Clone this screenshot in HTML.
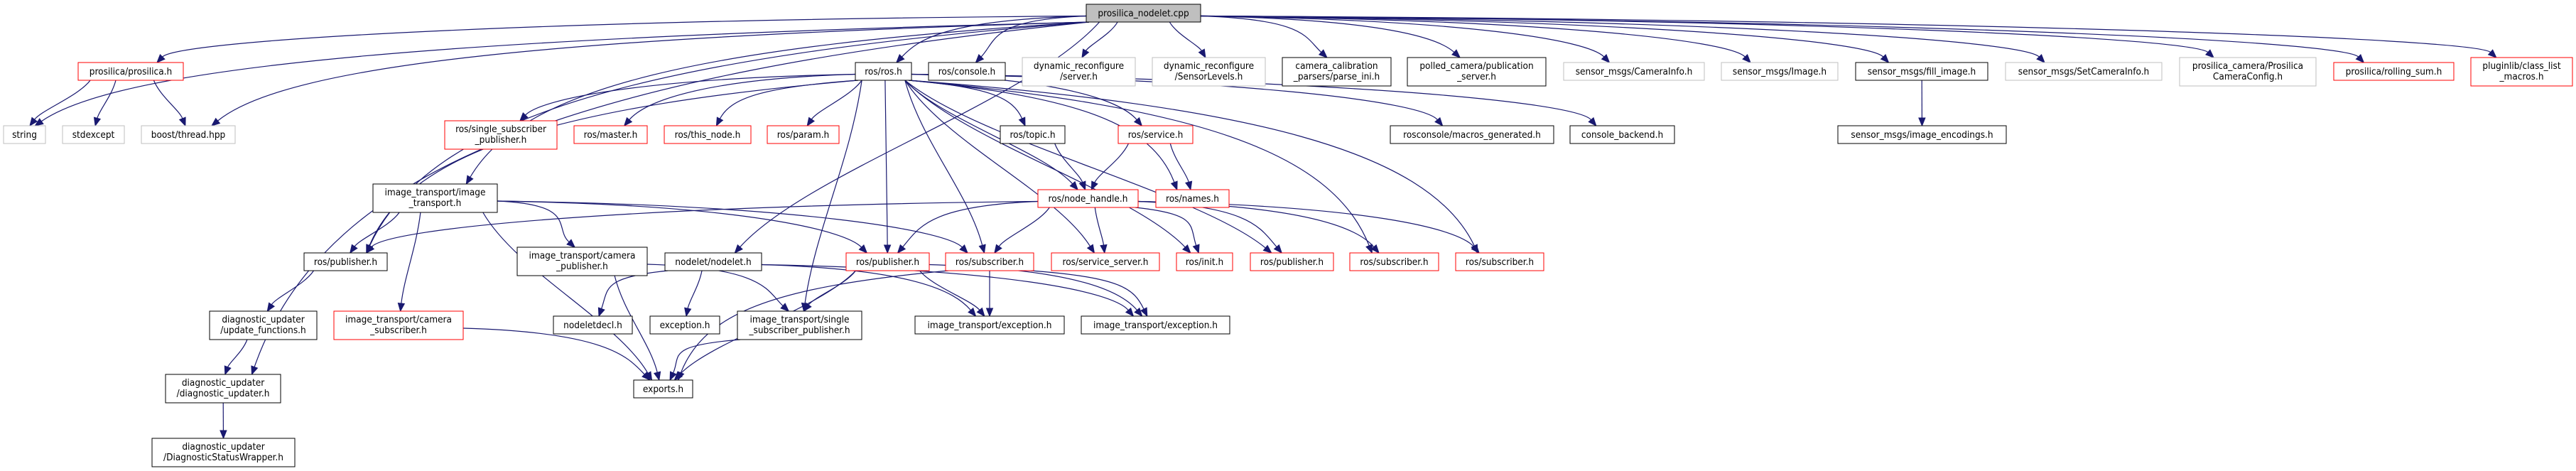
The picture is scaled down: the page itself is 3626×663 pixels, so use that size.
<!DOCTYPE html>
<html><head><meta charset="utf-8"><style>
html,body{margin:0;padding:0;background:#fff;}
svg{display:block;}
text{font-family:"DejaVu Sans Condensed","DejaVu Sans","Liberation Sans",sans-serif;font-size:13.5px;fill:#000;}
</style></head><body>
<svg id="g" width="3626" height="663" viewBox="0 0 3626 663" xmlns="http://www.w3.org/2000/svg">
<g id="edges" fill="none" stroke="#191970" stroke-width="1.2"></g>
<g id="arrows" fill="#191970" stroke="#191970"></g>
<g id="nodes">
<rect x="1529" y="6" width="161" height="25" fill="#bfbfbf" stroke="#000"/><text x="1609.5" y="23" text-anchor="middle">prosilica_nodelet.cpp</text>

<rect x="110" y="88" width="148" height="25" fill="#fff" stroke="#ff0000"/><text x="184" y="105" text-anchor="middle">prosilica/prosilica.h</text>
<rect x="1204" y="88" width="79" height="25" fill="#fff" stroke="#000"/><text x="1243.5" y="105" text-anchor="middle">ros/ros.h</text>
<rect x="1307" y="88" width="108" height="25" fill="#fff" stroke="#000"/><text x="1361" y="105" text-anchor="middle">ros/console.h</text>
<rect x="1439" y="81" width="159" height="40" fill="#fff" stroke="#bfbfbf"/><text x="1518.5" y="97" text-anchor="middle">dynamic_reconfigure</text><text x="1518.5" y="112" text-anchor="middle">/server.h</text>
<rect x="1622" y="81" width="159" height="40" fill="#fff" stroke="#bfbfbf"/><text x="1701.5" y="97" text-anchor="middle">dynamic_reconfigure</text><text x="1701.5" y="112" text-anchor="middle">/SensorLevels.h</text>
<rect x="1805" y="81" width="153" height="40" fill="#fff" stroke="#000"/><text x="1881.5" y="97" text-anchor="middle">camera_calibration</text><text x="1881.5" y="112" text-anchor="middle">_parsers/parse_ini.h</text>
<rect x="1981" y="81" width="195" height="40" fill="#fff" stroke="#000"/><text x="2078.5" y="97" text-anchor="middle">polled_camera/publication</text><text x="2078.5" y="112" text-anchor="middle">_server.h</text>
<rect x="2201" y="88" width="198" height="25" fill="#fff" stroke="#bfbfbf"/><text x="2300" y="105" text-anchor="middle">sensor_msgs/CameraInfo.h</text>
<rect x="2423" y="88" width="164" height="25" fill="#fff" stroke="#bfbfbf"/><text x="2505" y="105" text-anchor="middle">sensor_msgs/Image.h</text>
<rect x="2612" y="88" width="186" height="25" fill="#fff" stroke="#000"/><text x="2705" y="105" text-anchor="middle">sensor_msgs/fill_image.h</text>
<rect x="2823" y="88" width="220" height="25" fill="#fff" stroke="#bfbfbf"/><text x="2933" y="105" text-anchor="middle">sensor_msgs/SetCameraInfo.h</text>
<rect x="3068" y="81" width="192" height="40" fill="#fff" stroke="#bfbfbf"/><text x="3164" y="97" text-anchor="middle">prosilica_camera/Prosilica</text><text x="3164" y="112" text-anchor="middle">CameraConfig.h</text>
<rect x="3285" y="88" width="169" height="25" fill="#fff" stroke="#ff0000"/><text x="3369.5" y="105" text-anchor="middle">prosilica/rolling_sum.h</text>
<rect x="3478" y="81" width="143" height="40" fill="#fff" stroke="#ff0000"/><text x="3549.5" y="97" text-anchor="middle">pluginlib/class_list</text><text x="3549.5" y="112" text-anchor="middle">_macros.h</text>

<rect x="5" y="177" width="59" height="25" fill="#fff" stroke="#bfbfbf"/><text x="34.5" y="194" text-anchor="middle">string</text>
<rect x="88" y="177" width="87" height="25" fill="#fff" stroke="#bfbfbf"/><text x="131.5" y="194" text-anchor="middle">stdexcept</text>
<rect x="199" y="177" width="132" height="25" fill="#fff" stroke="#bfbfbf"/><text x="265" y="194" text-anchor="middle">boost/thread.hpp</text>
<rect x="626" y="170" width="158" height="40" fill="#fff" stroke="#ff0000"/><text x="705" y="186" text-anchor="middle">ros/single_subscriber</text><text x="705" y="201" text-anchor="middle">_publisher.h</text>
<rect x="808" y="177" width="103" height="25" fill="#fff" stroke="#ff0000"/><text x="859.5" y="194" text-anchor="middle">ros/master.h</text>
<rect x="935" y="177" width="122" height="25" fill="#fff" stroke="#ff0000"/><text x="996" y="194" text-anchor="middle">ros/this_node.h</text>
<rect x="1080" y="177" width="101" height="25" fill="#fff" stroke="#ff0000"/><text x="1130.5" y="194" text-anchor="middle">ros/param.h</text>
<rect x="1408" y="177" width="91" height="25" fill="#fff" stroke="#000"/><text x="1453.5" y="194" text-anchor="middle">ros/topic.h</text>
<rect x="1574" y="177" width="105" height="25" fill="#fff" stroke="#ff0000"/><text x="1626.5" y="194" text-anchor="middle">ros/service.h</text>
<rect x="1957" y="177" width="230" height="25" fill="#fff" stroke="#000"/><text x="2072" y="194" text-anchor="middle">rosconsole/macros_generated.h</text>
<rect x="2210" y="177" width="147" height="25" fill="#fff" stroke="#000"/><text x="2283.5" y="194" text-anchor="middle">console_backend.h</text>
<rect x="2587" y="177" width="237" height="25" fill="#fff" stroke="#000"/><text x="2705.5" y="194" text-anchor="middle">sensor_msgs/image_encodings.h</text>

<rect x="525" y="259" width="175" height="40" fill="#fff" stroke="#000"/><text x="612.5" y="275" text-anchor="middle">image_transport/image</text><text x="612.5" y="290" text-anchor="middle">_transport.h</text>
<rect x="1461" y="267" width="141" height="25" fill="#fff" stroke="#ff0000"/><text x="1531.5" y="284" text-anchor="middle">ros/node_handle.h</text>
<rect x="1627" y="267" width="103" height="25" fill="#fff" stroke="#ff0000"/><text x="1678.5" y="284" text-anchor="middle">ros/names.h</text>

<rect x="428" y="356" width="117" height="25" fill="#fff" stroke="#000"/><text x="486.5" y="373" text-anchor="middle">ros/publisher.h</text>
<rect x="728" y="348" width="183" height="40" fill="#fff" stroke="#000"/><text x="819.5" y="364" text-anchor="middle">image_transport/camera</text><text x="819.5" y="379" text-anchor="middle">_publisher.h</text>
<rect x="936" y="356" width="136" height="25" fill="#fff" stroke="#000"/><text x="1004" y="373" text-anchor="middle">nodelet/nodelet.h</text>
<rect x="1191" y="356" width="117" height="25" fill="#fff" stroke="#ff0000"/><text x="1249.5" y="373" text-anchor="middle">ros/publisher.h</text>
<rect x="1331" y="356" width="124" height="25" fill="#fff" stroke="#ff0000"/><text x="1393" y="373" text-anchor="middle">ros/subscriber.h</text>
<rect x="1480" y="356" width="152" height="25" fill="#fff" stroke="#ff0000"/><text x="1556" y="373" text-anchor="middle">ros/service_server.h</text>
<rect x="1656" y="356" width="79" height="25" fill="#fff" stroke="#ff0000"/><text x="1695.5" y="373" text-anchor="middle">ros/init.h</text>
<rect x="1760" y="356" width="117" height="25" fill="#fff" stroke="#ff0000"/><text x="1818.5" y="373" text-anchor="middle">ros/publisher.h</text>
<rect x="1900" y="356" width="125" height="25" fill="#fff" stroke="#ff0000"/><text x="1962.5" y="373" text-anchor="middle">ros/subscriber.h</text>
<rect x="2049" y="356" width="124" height="25" fill="#fff" stroke="#ff0000"/><text x="2111" y="373" text-anchor="middle">ros/subscriber.h</text>

<rect x="295" y="438" width="151" height="40" fill="#fff" stroke="#000"/><text x="370.5" y="454" text-anchor="middle">diagnostic_updater</text><text x="370.5" y="469" text-anchor="middle">/update_functions.h</text>
<rect x="470" y="438" width="182" height="40" fill="#fff" stroke="#ff0000"/><text x="561" y="454" text-anchor="middle">image_transport/camera</text><text x="561" y="469" text-anchor="middle">_subscriber.h</text>
<rect x="779" y="445" width="111" height="25" fill="#fff" stroke="#000"/><text x="834.5" y="462" text-anchor="middle">nodeletdecl.h</text>
<rect x="915" y="445" width="98" height="25" fill="#fff" stroke="#000"/><text x="964" y="462" text-anchor="middle">exception.h</text>
<rect x="1038" y="438" width="175" height="40" fill="#fff" stroke="#000"/><text x="1125.5" y="454" text-anchor="middle">image_transport/single</text><text x="1125.5" y="469" text-anchor="middle">_subscriber_publisher.h</text>
<rect x="1288" y="445" width="210" height="25" fill="#fff" stroke="#000"/><text x="1393" y="462" text-anchor="middle">image_transport/exception.h</text>
<rect x="1522" y="445" width="209" height="25" fill="#fff" stroke="#000"/><text x="1626.5" y="462" text-anchor="middle">image_transport/exception.h</text>

<rect x="233" y="527" width="162" height="40" fill="#fff" stroke="#000"/><text x="314" y="543" text-anchor="middle">diagnostic_updater</text><text x="314" y="558" text-anchor="middle">/diagnostic_updater.h</text>
<rect x="892" y="535" width="83" height="25" fill="#fff" stroke="#000"/><text x="933.5" y="552" text-anchor="middle">exports.h</text>

<rect x="214" y="617" width="201" height="40" fill="#fff" stroke="#000"/><text x="314.5" y="633" text-anchor="middle">diagnostic_updater</text><text x="314.5" y="648" text-anchor="middle">/DiagnosticStatusWrapper.h</text>
</g>
</svg>
<script>
var N={
cpp:[1529,1690,6,31],prosilica:[110,258,88,113],ros:[1204,1283,88,113],console:[1307,1415,88,113],
drs:[1439,1598,81,121],drl:[1622,1781,81,121],ini:[1805,1958,81,121],pubsrv:[1981,2176,81,121],
caminfo:[2201,2399,88,113],image:[2423,2587,88,113],fill:[2612,2798,88,113],setcam:[2823,3043,88,113],
camcfg:[3068,3260,81,121],rolling:[3285,3454,88,113],classlist:[3478,3621,81,121],
string:[5,64,177,202],stdexcept:[88,175,177,202],boost:[199,331,177,202],ssp:[626,784,170,210],
master:[808,911,177,202],thisnode:[935,1057,177,202],param:[1080,1181,177,202],topic:[1408,1499,177,202],
service:[1574,1679,177,202],macros:[1957,2187,177,202],backend:[2210,2357,177,202],enc:[2587,2824,177,202],
it:[525,700,259,299],nh:[1461,1602,267,292],names:[1627,1730,267,292],
pubk:[428,545,356,381],campub:[728,911,348,388],nodelet:[936,1072,356,381],pubr1:[1191,1308,356,381],
subr1:[1331,1455,356,381],srvsrv:[1480,1632,356,381],init:[1656,1735,356,381],pubr2:[1760,1877,356,381],
subr2:[1900,2025,356,381],subr3:[2049,2173,356,381],
updfn:[295,446,438,478],camsub:[470,652,438,478],decl:[779,890,445,471],exc:[915,1013,445,471],
itssp:[1038,1213,438,478],itexc1:[1288,1498,445,471],itexc2:[1522,1731,445,471],
diag:[233,395,527,567],exports:[892,975,535,560],dsw:[214,415,617,657]};
var E=[
['cpp',['string','prosilica','boost','ros','console','drs','drl','ini','pubsrv','caminfo','image','fill','setcam','camcfg','rolling','classlist','it','pubk','diag','nodelet']],
['prosilica',['string','stdexcept','boost']],
['ros',['ssp','master','thisnode','param','topic','service','nh','names','pubk','pubr1','subr1','srvsrv','init','pubr2','subr2','subr3','macros','backend','itssp']],
['it',['pubk','campub','camsub','exports','subr1','pubr1']],
['pubk',['updfn']],['updfn',['diag']],['diag',['dsw']],['camsub',['exports']],
['campub',['exports','itssp']],['nodelet',['decl','exc','itexc1','itexc2']],
['pubr1',['itssp','exports','itexc1','itexc2']],['subr1',['itexc1','itexc2','exports']],
['itssp',['exports']],['nh',['pubk','pubr1','subr1','srvsrv','init','pubr2','subr2','subr3']],
['topic',['nh']],['service',['nh','names']],['fill',['enc']]];
var eg=document.getElementById('edges'),ag=document.getElementById('arrows'),ns='http://www.w3.org/2000/svg';
function f(v){return v.toFixed(1);}
E.forEach(function(e){var s=N[e[0]];e[1].forEach(function(t){var d=N[t];
 var scx=(s[0]+s[1])/2,tcx=(d[0]+d[1])/2,w=s[1]-s[0];
 var sx,sy,tx=tcx+Math.max(-(d[1]-d[0])/4,Math.min((d[1]-d[0])/4,(scx-tcx)*0.05)),ty=d[2];
 var c1x,c1y,c2x,c2y;
 if(d[2]<s[3]){ /* same rank-ish or upward: go from side */
   sx=tcx<scx?s[0]:s[1];sy=(s[2]+s[3])/2;tx=tcx<scx?d[1]:d[0];ty=(d[2]+d[3])/2;
   c1x=sx+(tx-sx)*0.4;c1y=sy;c2x=sx+(tx-sx)*0.6;c2y=ty;
 } else {
 var dx=tcx-scx,dy=ty-s[3];
 if(Math.abs(dx)>4*dy && dy<120){
   sx=dx<0?s[0]:s[1];sy=(s[2]+s[3])/2+4;
   c1x=sx+dx*0.55;c1y=sy+dy*0.1;c2x=tx+(dx<0?30:-30);c2y=ty-dy*0.55;
 } else if(Math.abs(dx)>2.5*dy){
   sx=dx<0?s[0]+4:s[1]-4;sy=s[3];
   c1x=sx+dx*0.55;c1y=sy+dy*0.15;c2x=tx-dx*0.08;c2y=ty-dy*0.6;
 } else {
   sx=scx+Math.max(-w/2.6,Math.min(w/2.6,dx*0.4));sy=s[3];
   c1x=sx+(tx-sx)*0.2;c1y=sy+dy*0.35;c2x=tx-(tx-sx)*0.2;c2y=ty-dy*0.35;
 }}
 var L=11,ang=Math.atan2(ty-c2y,tx-c2x);
 var ex=tx-L*Math.cos(ang),ey=ty-L*Math.sin(ang);
 var p=document.createElementNS(ns,'path');
 p.setAttribute('d','M'+f(sx)+','+f(sy)+' C'+f(c1x)+','+f(c1y)+' '+f(c2x)+','+f(c2y)+' '+f(ex)+','+f(ey));
 eg.appendChild(p);
 var px=-Math.sin(ang)*4.5,py=Math.cos(ang)*4.5;
 var a=document.createElementNS(ns,'polygon');
 a.setAttribute('points',f(tx)+','+f(ty)+' '+f(ex+px)+','+f(ey+py)+' '+f(ex-px)+','+f(ey-py));
 ag.appendChild(a);
});});
</script>
</body></html>
